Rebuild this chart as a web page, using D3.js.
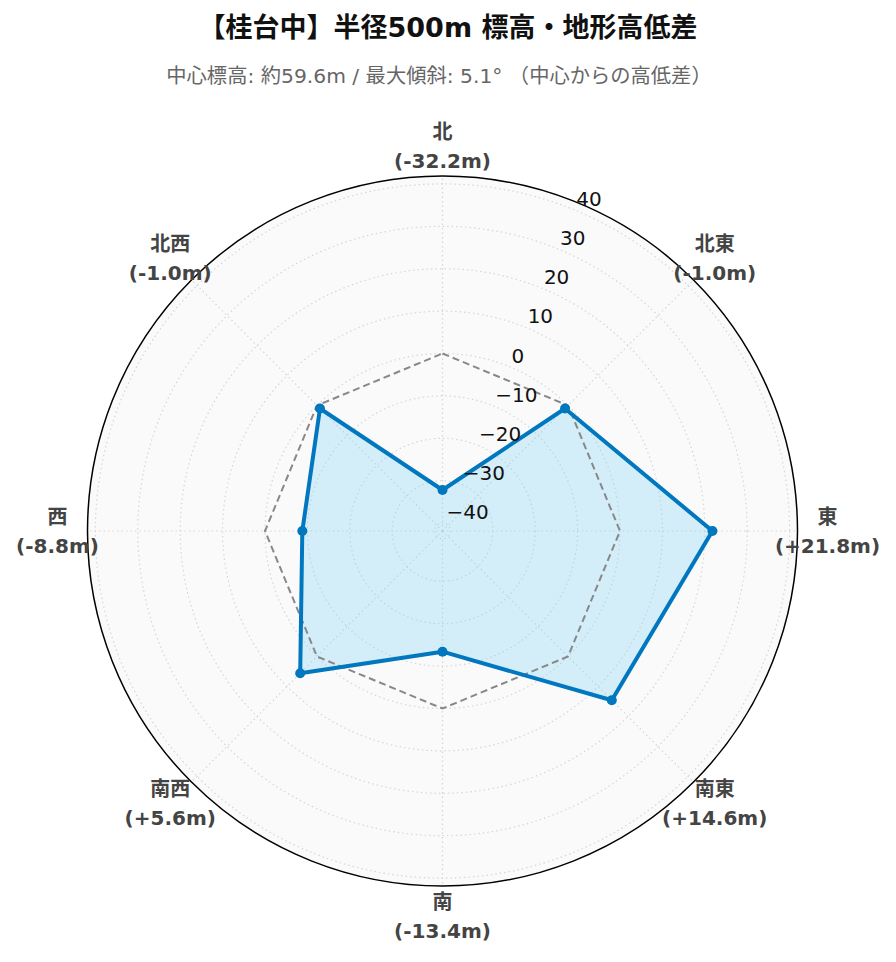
<!DOCTYPE html>
<html><head><meta charset="utf-8">
<script src="https://cdn.jsdelivr.net/npm/d3@7"></script>
<style>
html,body{margin:0;padding:0;background:#fff;}
svg{display:block;font-family:"DejaVu Sans","Noto Sans CJK JP",sans-serif;}
</style></head>
<body>
<svg id="c" width="896" height="962"></svg>
<script>
const directions = ["北","北東","東","南東","南","南西","西","北西"];
const values = [-32.2, -1.0, 21.8, 14.6, -13.4, 5.6, -8.8, -1.0];
const baseline = [0, 0, 0, 0, 0, 0, 0, 0];
const radialTicks = [-40, -30, -20, -10, 0, 10, 20, 30, 40];
const radialRange = [-41.86, 41.86];
const titleText = "【桂台中】半径500m 標高・地形高低差";
const subtitleText = "中心標高: 約59.6m / 最大傾斜: 5.1° （中心からの高低差）";

const svg = d3.select("#c");
const cx = 442.5, cy = 531, R = 355;
const r = d3.scaleLinear().domain(radialRange).range([0, R]);
const ang = d3.scaleLinear().domain([0, directions.length]).range([0, 2*Math.PI]);
const px = (a, rr) => cx + rr*Math.sin(a);
const py = (a, rr) => cy - rr*Math.cos(a);

svg.append("text").attr("x", 448).attr("y", 27).attr("text-anchor","middle")
  .attr("dominant-baseline","central").attr("font-size", 27).attr("font-weight","bold")
  .attr("fill","#111").text(titleText);
svg.append("text").attr("x", 439).attr("y", 76).attr("text-anchor","middle")
  .attr("dominant-baseline","central").attr("font-size", 20.3)
  .attr("fill","#666").text(subtitleText);

const g = svg.append("g");
g.append("circle").attr("cx",cx).attr("cy",cy).attr("r",R).attr("fill","#fafafa");

// radial grid circles
g.selectAll(".rg").data(radialTicks).join("circle")
  .attr("cx",cx).attr("cy",cy).attr("r",d=>r(d))
  .attr("fill","none").attr("stroke","#d6d6d6").attr("stroke-width",1.2)
  .attr("stroke-dasharray","1.5,3");
// angular grid
g.selectAll(".ag").data(directions).join("line")
  .attr("x1",cx).attr("y1",cy)
  .attr("x2",(d,i)=>px(ang(i),R)).attr("y2",(d,i)=>py(ang(i),R))
  .attr("stroke","#d6d6d6").attr("stroke-width",1.2).attr("stroke-dasharray","1.5,3");

// data fill
const line = d3.lineRadial().angle((d,i)=>ang(i)).radius(d=>r(d)).curve(d3.curveLinearClosed);
g.append("path").attr("transform",`translate(${cx},${cy})`)
  .attr("d", line(values)).attr("fill","rgba(123,207,247,0.3)").attr("stroke","none");
// baseline dashed
g.append("path").attr("transform",`translate(${cx},${cy})`)
  .attr("d", line(baseline)).attr("fill","none").attr("stroke","#888")
  .attr("stroke-width",2).attr("stroke-dasharray","7,4");
// data line
g.append("path").attr("transform",`translate(${cx},${cy})`)
  .attr("d", line(values)).attr("fill","none").attr("stroke","#0077be")
  .attr("stroke-width",4).attr("stroke-linejoin","round");
g.selectAll(".pt").data(values).join("circle")
  .attr("cx",(d,i)=>px(ang(i),r(d))).attr("cy",(d,i)=>py(ang(i),r(d)))
  .attr("r",5).attr("fill","#0077be");

// outer circle
g.append("circle").attr("cx",cx).attr("cy",cy).attr("r",R).attr("fill","none")
  .attr("stroke","#000").attr("stroke-width",1.5);

// radial tick labels along 22.5°
const tickAng = Math.PI/8;
g.selectAll(".rt").data(radialTicks).join("text")
  .attr("x", d=>px(tickAng, r(d)) + 1).attr("y", d=>py(tickAng, r(d)) - 11.5)
  .attr("dominant-baseline","central").attr("font-size",20).attr("fill","#111")
  .text(d => d < 0 ? "\u2212" + Math.abs(d) : String(d));

// direction labels
const fmt = v => "(" + (v > 0 ? "+" : "") + v.toFixed(1) + "m)";
const lab = g.selectAll(".dl").data(directions).join("text")
  .attr("text-anchor","middle").attr("font-size",20).attr("font-weight","bold").attr("fill","#444");
lab.append("tspan").attr("x",(d,i)=>px(ang(i),385)).attr("y",(d,i)=>py(ang(i),385)-14.5)
  .attr("dominant-baseline","central").text(d=>d);
lab.append("tspan").attr("x",(d,i)=>px(ang(i),385)).attr("y",(d,i)=>py(ang(i),385)+14.5)
  .attr("dominant-baseline","central").text((d,i)=>fmt(values[i]));
</script>
</body></html>
